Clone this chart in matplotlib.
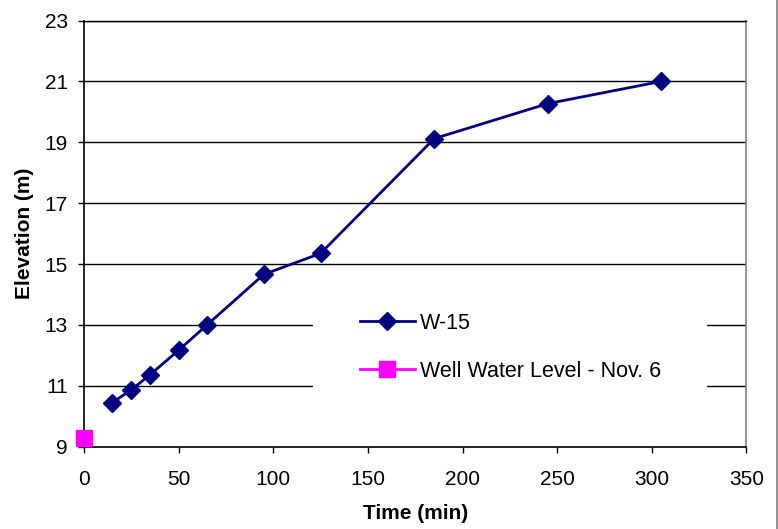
import matplotlib
matplotlib.use("Agg")
import matplotlib.pyplot as plt
from matplotlib.lines import Line2D
from matplotlib.patches import Rectangle

plt.rcParams['font.family'] = ['Liberation Sans', 'DejaVu Sans']

# Pumping-test recovery: elevation vs. time
time_min = [15, 25, 35, 50, 65, 95, 125, 185, 245, 305]
elev_w15 = [10.45, 10.87, 11.37, 12.17, 13.0, 14.66, 15.35, 19.12, 20.27, 21.0]

well_time = [0]
well_level = [9.28]

x_ticks = [0, 50, 100, 150, 200, 250, 300, 350]
y_ticks = [9, 11, 13, 15, 17, 19, 21, 23]

W, H = 778, 529
fig = plt.figure(figsize=(W / 100, H / 100), dpi=100)
ax_l, ax_r, ax_t, ax_b = 84, 746.5, 20.5, 446.7
ax = fig.add_axes([ax_l / W, 1 - ax_b / H, (ax_r - ax_l) / W, (ax_b - ax_t) / H])

ax.set_xlim(0, 350)
ax.set_ylim(9, 23)
ax.set_xticks(x_ticks)
ax.set_yticks(y_ticks)

for yv in y_ticks[1:]:
    ax.axhline(yv, color='black', lw=1.0, zorder=1)

ax.plot(time_min, elev_w15, color='#000080', lw=2.0, marker='D',
        markersize=9, markerfacecolor='#000080', markeredgecolor='#000080',
        label='W-15', zorder=3, clip_on=False)
ax.plot(well_time, well_level, color='#FF00FF', lw=2.0, marker='s',
        markersize=11, markerfacecolor='#FF00FF', markeredgecolor='#FF00FF',
        label='Well Water Level - Nov. 6', zorder=4, clip_on=False)

# white legend panel that masks the gridlines behind it
pw, ph = ax_r - ax_l, ax_b - ax_t
ax.add_patch(Rectangle(((313 - ax_l) / pw, (ax_b - 392) / ph), 394 / pw, 94 / ph,
                       transform=ax.transAxes, facecolor='white', edgecolor='none',
                       zorder=2))

leg = ax.legend(loc='upper left', bbox_to_anchor=((360 - ax_l) / pw, (ax_b - 313) / ph),
                frameon=False, fontsize=15.5, handlelength=2.55, handletextpad=0.25,
                labelspacing=1.25, borderpad=0, borderaxespad=0)
leg.set_zorder(5)

for side in ['left', 'bottom']:
    ax.spines[side].set_color('black')
    ax.spines[side].set_linewidth(1.2)
ax.spines['top'].set_color('black')
ax.spines['top'].set_linewidth(1.0)
ax.spines['right'].set_color('#808080')
ax.spines['right'].set_linewidth(1.2)

ax.tick_params(axis='both', direction='out', length=4.5, width=1.0,
               labelsize=15, colors='black')
ax.tick_params(axis='x', pad=12)
ax.tick_params(axis='y', pad=7)

ax.set_xlabel('Time (min)', fontsize=15, fontweight='bold', labelpad=11)
ax.set_ylabel('Elevation (m)', fontsize=15, fontweight='bold', labelpad=8)

# chart-area edge on the right
fig.add_artist(Line2D([776.5 / W, 776.5 / W], [0, 1], color='#808080', lw=1.2))

fig.savefig('out.png', dpi=100)
